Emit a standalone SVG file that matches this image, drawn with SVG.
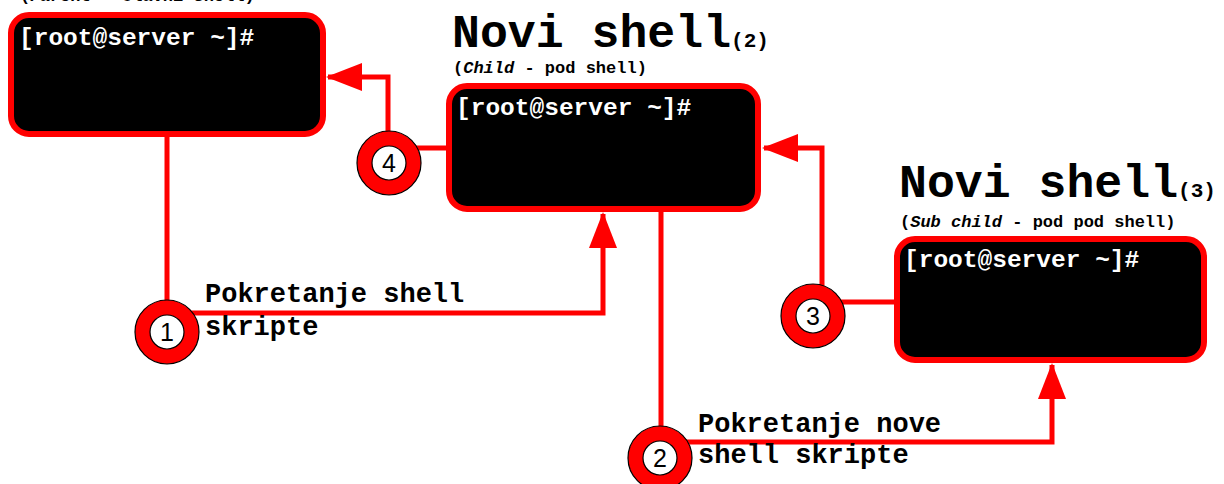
<svg xmlns="http://www.w3.org/2000/svg" width="1224" height="484" viewBox="0 0 1224 484">
<style>
.term{fill:#000;stroke:#ff0000;stroke-width:6}
.prompt{font-family:"Liberation Mono","Courier New",monospace;font-weight:bold;font-size:24.5px;fill:#fff}
.title{font-family:"Liberation Mono","Courier New",monospace;font-weight:bold;font-size:46.5px;fill:#000}
.num{font-family:"Liberation Mono","Courier New",monospace;font-weight:bold;font-size:21px;fill:#000}
.sub{font-family:"Liberation Mono","Courier New",monospace;font-weight:bold;font-size:17px;fill:#000}
.lbl{font-family:"Liberation Mono","Courier New",monospace;font-weight:bold;font-size:27px;fill:#000}
.wire{fill:none;stroke:#ff0000;stroke-width:5}
.ring{fill:#ff0000;stroke:#000;stroke-width:1.2}
.hole{fill:#fff;stroke:#000;stroke-width:1.2}
.digit{font-family:"Liberation Sans",Arial,sans-serif;font-size:25px;fill:#000;text-anchor:middle}
</style>
<defs>
<marker id="arr" viewBox="0 0 36 28" refX="34" refY="14" markerWidth="36" markerHeight="28" markerUnits="userSpaceOnUse" orient="auto">
<path d="M0,0 L36,14 L0,28 Z" fill="#ff0000"/>
</marker>
</defs>
<g id="connectors">
<path class="wire" d="M167,137 L167,313 L603,313 L603,214" marker-end="url(#arr)"/>
<path class="wire" d="M661,212 L661,442 L1052,442 L1052,365" marker-end="url(#arr)"/>
<path class="wire" d="M813,302 L896,302"/>
<path class="wire" d="M822,300 L822,148 L764,148" marker-end="url(#arr)"/>
<path class="wire" d="M448,148 L389,148"/>
<path class="wire" d="M388,140 L388,77 L328,77" marker-end="url(#arr)"/>
</g>
<g id="shell1">
<text class="sub" x="20" y="1">(<tspan font-style="italic">Parent</tspan> - Glavni shell)</text>
<rect class="term" x="11" y="15" width="312" height="119" rx="18"/>
<text class="prompt" x="19" y="45">[root@server ~]#</text>
</g>
<g id="shell2">
<text class="title" x="452" y="47">Novi shell<tspan class="num">(2)</tspan></text>
<text class="sub" x="453" y="73">(<tspan font-style="italic">Child</tspan> - pod shell)</text>
<rect class="term" x="449" y="86" width="309" height="123" rx="18"/>
<text class="prompt" x="456" y="115">[root@server ~]#</text>
</g>
<g id="shell3">
<text class="title" x="899" y="197">Novi shell<tspan class="num">(3)</tspan></text>
<text class="sub" x="900" y="227">(<tspan font-style="italic">Sub child</tspan> - pod pod shell)</text>
<rect class="term" x="897" y="239" width="307" height="121" rx="18"/>
<text class="prompt" x="904" y="267">[root@server ~]#</text>
</g>
<g id="step1">
<circle class="ring" cx="167" cy="332" r="32"/>
<circle class="hole" cx="167" cy="332" r="17"/>
<text class="digit" x="167" y="341">1</text>
<text class="lbl" x="205" y="302">Pokretanje shell</text>
<text class="lbl" x="205" y="335">skripte</text>
</g>
<g id="step2">
<circle class="ring" cx="660" cy="458" r="32"/>
<circle class="hole" cx="660" cy="458" r="17"/>
<text class="digit" x="660" y="467">2</text>
<text class="lbl" x="698" y="432">Pokretanje nove</text>
<text class="lbl" x="698" y="463">shell skripte</text>
</g>
<g id="step3">
<circle class="ring" cx="813" cy="316" r="32"/>
<circle class="hole" cx="813" cy="316" r="17"/>
<text class="digit" x="813" y="325">3</text>
</g>
<g id="step4">
<circle class="ring" cx="389" cy="163" r="32"/>
<circle class="hole" cx="389" cy="163" r="17"/>
<text class="digit" x="389" y="172">4</text>
</g>
</svg>
